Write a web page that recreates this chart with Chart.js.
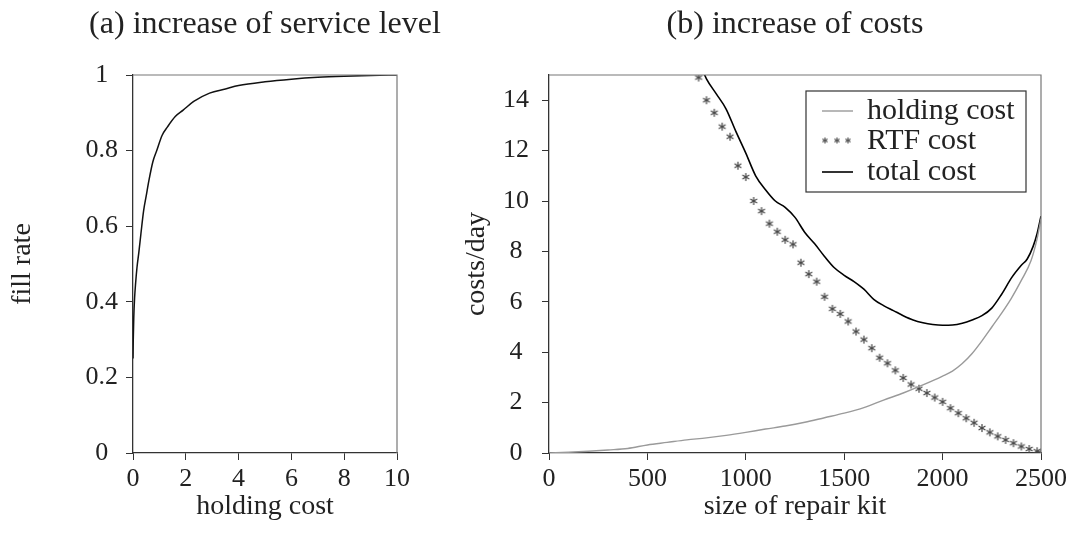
<!DOCTYPE html>
<html>
<head>
<meta charset="utf-8">
<script src="https://cdn.jsdelivr.net/npm/chart.js@4.4.1/dist/chart.umd.min.js"></script>
<style>
    html, body { margin: 0; padding: 0; background: #fff; }
    body { width: 1077px; height: 535px; position: relative; overflow: hidden; }
    canvas { position: absolute; top: 0; }
    #fillChart { left: 0; }
    #costChart { left: 440px; }
</style>
</head>
<body>
<canvas id="fillChart" width="540" height="535"></canvas>
<canvas id="costChart" width="637" height="535"></canvas>
<script>
// ============================================
// (a) fill rate vs holding cost
// ============================================
const fillX = [0, 0.01, 0.03, 0.06, 0.1, 0.15, 0.22, 0.3, 0.4, 0.5, 0.6, 0.75, 0.9, 1.1, 1.3, 1.6, 1.9, 2.3, 2.9, 3.5, 4.0, 5.0, 6.0, 7.0, 8.0, 9.0, 10];
const fillY = [0.25, 0.30, 0.36, 0.41, 0.45, 0.49, 0.53, 0.58, 0.64, 0.68, 0.72, 0.77, 0.80, 0.84, 0.862, 0.89, 0.907, 0.93, 0.952, 0.963, 0.972, 0.982, 0.989, 0.994, 0.997, 0.999, 1.0];

// ============================================
// (b) costs per day vs size of repair kit
// ============================================
const holdX = [0, 100, 200, 300, 400, 500, 600, 700, 800, 900, 1000, 1100, 1200, 1300, 1400, 1500, 1600, 1700, 1800, 1900, 2000, 2050, 2100, 2150, 2200, 2250, 2300, 2350, 2400, 2450, 2480, 2500];
const holdY = [0, 0.03, 0.07, 0.12, 0.18, 0.32, 0.42, 0.52, 0.6, 0.7, 0.82, 0.95, 1.07, 1.22, 1.4, 1.58, 1.8, 2.1, 2.38, 2.7, 3.05, 3.25, 3.55, 3.95, 4.45, 5.0, 5.55, 6.15, 6.85, 7.65, 8.5, 9.3];

const rtfX = [760, 800, 840, 880, 920, 960, 1000, 1040, 1080, 1120, 1160, 1200, 1240, 1280, 1320, 1360, 1400, 1440, 1480, 1520, 1560, 1600, 1640, 1680, 1720, 1760, 1800, 1840, 1880, 1920, 1960, 2000, 2040, 2080, 2120, 2160, 2200, 2240, 2280, 2320, 2360, 2400, 2440, 2480, 2500];
const rtfY = [14.9, 14.0, 13.5, 12.95, 12.55, 11.4, 10.95, 10.0, 9.6, 9.1, 8.78, 8.46, 8.28, 7.55, 7.1, 6.8, 6.2, 5.72, 5.52, 5.22, 4.82, 4.5, 4.16, 3.78, 3.56, 3.28, 2.98, 2.72, 2.55, 2.38, 2.2, 2.03, 1.78, 1.58, 1.38, 1.2, 0.99, 0.82, 0.66, 0.52, 0.39, 0.26, 0.16, 0.07, 0.02];

const totalX = [780, 800, 850, 900, 950, 1000, 1050, 1100, 1150, 1200, 1250, 1300, 1350, 1400, 1450, 1500, 1550, 1600, 1650, 1700, 1750, 1800, 1850, 1900, 1950, 2000, 2050, 2100, 2150, 2200, 2250, 2300, 2350, 2400, 2430, 2460, 2480, 2500];
const totalY = [15.2, 14.85, 14.25, 13.65, 12.75, 11.9, 11.0, 10.45, 10.0, 9.75, 9.35, 8.75, 8.3, 7.8, 7.35, 7.05, 6.8, 6.5, 6.1, 5.85, 5.65, 5.45, 5.28, 5.17, 5.1, 5.07, 5.08, 5.15, 5.28, 5.45, 5.75, 6.3, 6.95, 7.45, 7.7, 8.2, 8.7, 9.4];

const seriesNames = ['holding cost', 'RTF cost', 'total cost'];
const panelTitles = ['(a) increase of service level', '(b) increase of costs'];

const FONT = "'Liberation Serif', 'Times New Roman', serif";
const TXT = '#222';
Chart.defaults.font.family = FONT;
Chart.defaults.font.size = 26;
Chart.defaults.color = TXT;

const pts = (xs, ys) => xs.map((x, i) => ({ x: x, y: ys[i] }));

// six-armed asterisk used as point style
function makeStar(r, color) {
    const c = document.createElement('canvas');
    const s = Math.ceil(r * 2 + 2);
    c.width = s; c.height = s;
    const g = c.getContext('2d');
    g.strokeStyle = color;
    g.lineWidth = 1.2;
    g.translate(s / 2, s / 2);
    [90, 30, 150].forEach(a => {
        const t = a * Math.PI / 180;
        g.beginPath();
        g.moveTo(-r * Math.cos(t), -r * Math.sin(t));
        g.lineTo(r * Math.cos(t), r * Math.sin(t));
        g.stroke();
    });
    return c;
}
const star = makeStar(4, '#444');
const smallStar = makeStar(3, '#555');

// top + right frame of the plot box
const frame = {
    id: 'frame',
    afterDatasetsDraw(chart) {
        const { ctx, chartArea: a } = chart;
        ctx.save();
        ctx.strokeStyle = '#777';
        ctx.lineWidth = 1.2;
        ctx.beginPath();
        ctx.moveTo(a.left, a.top);
        ctx.lineTo(a.right, a.top);
        ctx.lineTo(a.right, a.bottom);
        ctx.stroke();
        ctx.restore();
    }
};

// subplot caption centred over the plot area
const panelTitle = {
    id: 'panelTitle',
    afterDraw(chart, args, opts) {
        const { ctx, chartArea: a } = chart;
        ctx.save();
        ctx.font = '32px ' + FONT;
        ctx.fillStyle = TXT;
        ctx.textAlign = 'center';
        ctx.textBaseline = 'middle';
        ctx.fillText(opts.text, (a.left + a.right) / 2, opts.y);
        ctx.restore();
    }
};

// boxed legend in the upper right corner
const boxLegend = {
    id: 'boxLegend',
    afterDraw(chart) {
        const { ctx, chartArea: a } = chart;
        const right = a.right - 15, left = right - 220;
        const top = a.top + 16, h = 101;
        ctx.save();
        ctx.fillStyle = '#fff';
        ctx.fillRect(left, top, 220, h);
        ctx.strokeStyle = '#333';
        ctx.lineWidth = 1.2;
        ctx.strokeRect(left, top, 220, h);
        ctx.font = '30px ' + FONT;
        ctx.fillStyle = TXT;
        ctx.textBaseline = 'middle';
        chart.data.datasets.forEach((ds, i) => {
            const y = top + 20 + i * 30.5;
            if (ds.showLine) {
                ctx.strokeStyle = ds.borderColor;
                ctx.lineWidth = ds.borderWidth;
                ctx.beginPath();
                ctx.moveTo(left + 16, y);
                ctx.lineTo(left + 47, y);
                ctx.stroke();
            } else {
                [19, 31, 42].forEach(dx => ctx.drawImage(smallStar, left + dx - smallStar.width / 2, y - 1 - smallStar.height / 2));
            }
            ctx.fillText(ds.label, left + 61, y);
        });
        ctx.restore();
    }
};

// plain numbers: no thousands separators, no trailing ".0"
const plain = v => String(Math.round(v * 100) / 100);

function axis(opts) {
    return {
        type: 'linear',
        min: opts.min,
        max: opts.max,
        afterFit: opts.fit,
        ticks: {
            stepSize: opts.step,
            includeBounds: false,
            padding: opts.pad,
            crossAlign: opts.cross || 'near',
            color: TXT,
            callback: plain
        },
        grid: { drawOnChartArea: false, tickLength: 7, color: '#333', tickWidth: 1 },
        border: { color: '#333', width: 1.3 },
        title: { display: true, text: opts.title, color: TXT, font: { size: 28 }, padding: opts.titlePad }
    };
}

new Chart(document.getElementById('fillChart'), {
    type: 'scatter',
    data: {
        datasets: [{
            label: 'fill rate',
            data: pts(fillX, fillY),
            showLine: true,
            borderColor: '#111',
            borderWidth: 1.5,
            pointRadius: 0,
            cubicInterpolationMode: 'monotone'
        }]
    },
    options: {
        responsive: false,
        animation: false,
        devicePixelRatio: 1,
        layout: { padding: { top: 75, right: 143, left: 0, bottom: 0 } },
        scales: {
            x: axis({ min: 0, max: 10, step: 2, pad: 4, title: 'holding cost',
                titlePad: { top: 0, bottom: 12 }, fit: s => { s.height = 82; } }),
            y: axis({ min: 0, max: 1, step: 0.2, pad: 8, cross: 'center', title: 'fill rate',
                titlePad: { top: 6, bottom: 0 }, fit: s => { s.width = 133; } })
        },
        plugins: {
            legend: { display: false },
            tooltip: { enabled: false },
            panelTitle: { text: panelTitles[0], y: 25 }
        }
    },
    plugins: [frame, panelTitle]
});

new Chart(document.getElementById('costChart'), {
    type: 'scatter',
    data: {
        datasets: [{
            label: seriesNames[0],
            data: pts(holdX, holdY),
            showLine: true,
            borderColor: '#9a9a9a',
            borderWidth: 1.4,
            pointRadius: 0,
            cubicInterpolationMode: 'monotone'
        }, {
            label: seriesNames[1],
            data: pts(rtfX, rtfY),
            showLine: false,
            pointStyle: star,
            pointRadius: 4,
            borderColor: '#444'
        }, {
            label: seriesNames[2],
            data: pts(totalX, totalY),
            showLine: true,
            borderColor: '#000',
            borderWidth: 1.6,
            pointRadius: 0,
            cubicInterpolationMode: 'monotone'
        }]
    },
    options: {
        responsive: false,
        animation: false,
        devicePixelRatio: 1,
        layout: { padding: { top: 75, right: 36, left: 0, bottom: 0 } },
        scales: {
            x: axis({ min: 0, max: 2500, step: 500, pad: 4, title: 'size of repair kit',
                titlePad: { top: 0, bottom: 12 }, fit: s => { s.height = 82; } }),
            y: axis({ min: 0, max: 15, step: 2, pad: 13, cross: 'center', title: 'costs/day',
                titlePad: { top: 20, bottom: 0 }, fit: s => { s.width = 109; } })
        },
        plugins: {
            legend: { display: false },
            tooltip: { enabled: false },
            panelTitle: { text: panelTitles[1], y: 25 }
        }
    },
    plugins: [frame, panelTitle, boxLegend]
});
</script>
</body>
</html>
